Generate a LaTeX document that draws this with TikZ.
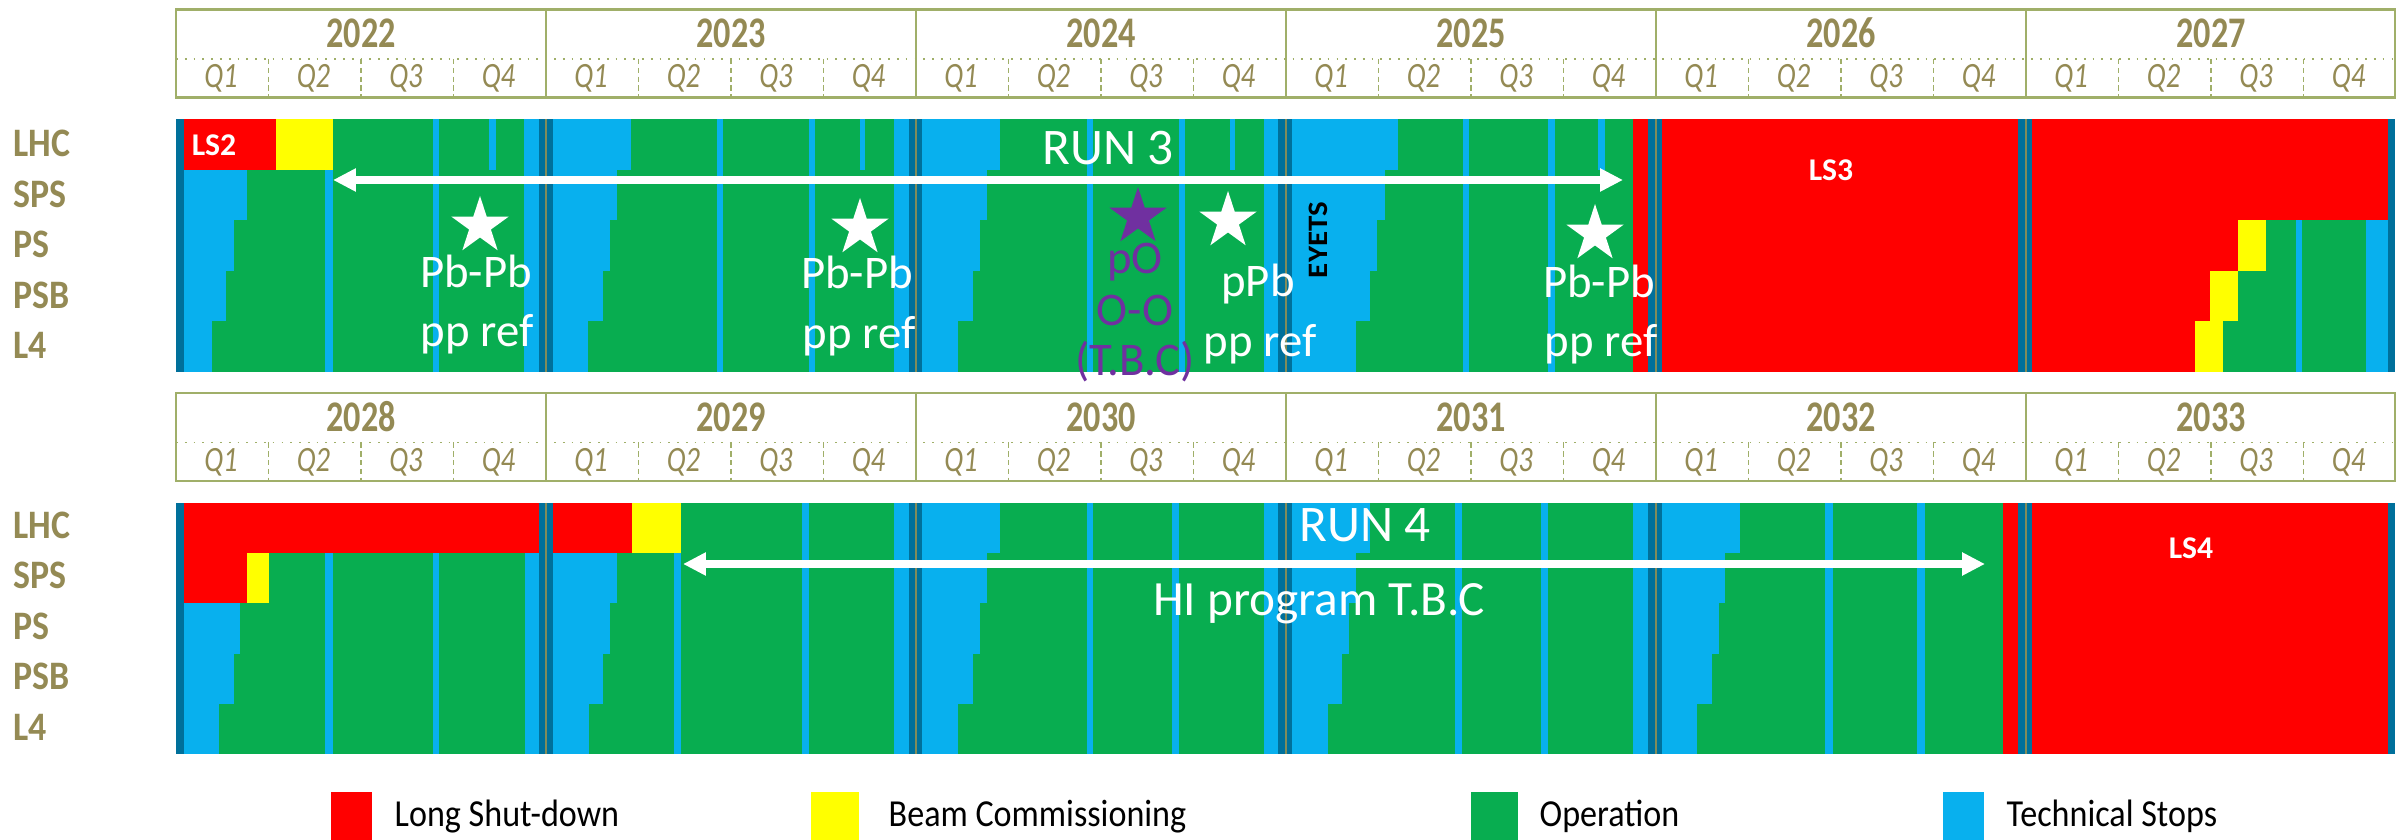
\documentclass[tikz,border=0pt]{standalone}
\usepackage{fontspec}
\setmainfont{Carlito}
\usetikzlibrary{arrows.meta,shapes.geometric}
\definecolor{lsred}{RGB}{255,0,0}
\definecolor{bcyellow}{RGB}{255,255,0}
\definecolor{opgreen}{RGB}{8,173,80}
\definecolor{tsblue}{RGB}{8,176,238}
\definecolor{dkblue}{RGB}{0,112,155}
\definecolor{olivetxt}{RGB}{148,138,84}
\definecolor{hdrline}{RGB}{160,175,105}
\definecolor{yrline}{RGB}{130,140,90}
\definecolor{tbcpurple}{RGB}{112,48,160}
\newcommand{\segm}[5]{\fill[#1] (#2,#4) rectangle (#3,#5);}
\newcommand{\tallyr}[1]{\scalebox{0.9}[1.15]{#1}}
\newcommand{\tallq}[1]{\scalebox{0.92}[1.15]{#1}}
\newcommand{\tallrow}[1]{\scalebox{1.02}[1.15]{#1}}
\newcommand{\talleg}[1]{\scalebox{1}[1.12]{#1}}
\def\tya{119.5}\def\tyb{170}\def\tyc{220.5}\def\tyd{271}\def\tye{321.5}\def\tyf{372}
\def\bya{503}\def\byb{553.2}\def\byc{603.4}\def\byd{653.6}\def\bye{703.8}\def\byf{754}
\tikzset{
  yearlbl/.style={font=\bfseries\fontsize{10.8}{12}\selectfont, text=olivetxt, anchor=base, inner sep=0pt},
  qlbl/.style={font=\itshape\fontsize{8.8}{10}\selectfont, text=olivetxt, anchor=base, inner sep=0pt},
  rowlbl/.style={font=\bfseries\fontsize{10}{12}\selectfont, text=olivetxt, anchor=base west, inner sep=0pt},
  lslbl/.style={font=\bfseries\fontsize{9}{11}\selectfont, text=white, anchor=center, inner sep=0pt},
  whitelbl/.style={font=\fontsize{13.3}{16}\selectfont, text=white, anchor=base, inner sep=0pt},
  purplelbl/.style={font=\fontsize{13.3}{16}\selectfont, text=tbcpurple, anchor=base, inner sep=0pt},
  runlbl/.style={font=\fontsize{14.6}{17}\selectfont, text=white, anchor=base, inner sep=0pt},
  starw/.style={star, star points=5, star point ratio=2.618, fill=white, draw=none, minimum size=0.6cm, inner sep=0pt},
  runarrow/.style={white, line width=2.1pt, {Triangle[length=6.5pt,width=6.2pt]}-{Triangle[length=6.5pt,width=6.2pt]}},
  hdrbox/.style={draw=hdrline, line width=0.6pt},
  hdrdot/.style={draw=hdrline, line width=0.5pt, dotted},
  hdrdash/.style={draw=hdrline, line width=0.5pt, dash pattern=on 1.5pt off 1pt},
  yearsep/.style={draw=yrline, line width=0.3pt},
  legsq/.style={draw=none, minimum width=0.41cm, minimum height=0.5cm, inner sep=0pt, anchor=north west},
  legtxt/.style={font=\fontsize{9.7}{12}\selectfont, text=black, anchor=base west, inner sep=0pt},
}
\begin{document}
\begin{tikzpicture}[x=0.01cm, y=-0.01cm]
\useasboundingbox (0,0) rectangle (2402,840);
\fill[white] (0,0) rectangle (2402,840);

% ---------------- headers ----------------
\foreach \hy/\yrs/\tag in {9.5/{2022,2023,2024,2025,2026,2027}/A, 393/{2028,2029,2030,2031,2032,2033}/B}{
  \draw[hdrbox] (176,\hy) rectangle (2395,\hy+88);
  \draw[hdrdot] (176,\hy+49.5) -- (2395,\hy+49.5);
  \foreach \yr [count=\i from 0] in \yrs {
    \pgfmathsetmacro{\xs}{176+370*\i}
    \ifnum\i>0 \draw[hdrbox] (\xs,\hy) -- (\xs,\hy+88); \fi
    \node[yearlbl] (yr\yr) at (\xs+185,\hy+38.5) {\tallyr{\yr}};
    \foreach \q in {1,2,3,4}{
      \pgfmathsetmacro{\qx}{\xs+92.5*(\q-1)}
      \ifnum\q>1 \draw[hdrdash] (\qx,\hy+49.5) -- (\qx,\hy+88); \fi
      \node[qlbl] (q\yr\q) at (\qx+45,\hy+78.5) {\tallq{Q\q}};
    }
  }
}

% ---------------- top chart 2022-2027 ----------------
\fill[opgreen] (176,\tya) rectangle (2395,\tyf);
\segm{dkblue}{176}{184}{\tya}{\tyf}
\segm{lsred}{184}{275.5}{\tya}{\tyb}
\segm{bcyellow}{275.5}{333}{\tya}{\tyb}
\segm{tsblue}{184}{247}{\tyb}{\tyc}
\segm{tsblue}{184}{234}{\tyc}{\tyd}
\segm{tsblue}{184}{226}{\tyd}{\tye}
\segm{tsblue}{184}{212}{\tye}{\tyf}
\segm{tsblue}{325}{333}{\tyb}{\tyf}
\segm{tsblue}{433}{439}{\tya}{\tyf}
\segm{tsblue}{489}{496}{\tya}{\tyb}
\segm{tsblue}{524}{539}{\tya}{\tyf}
\segm{dkblue}{539}{553}{\tya}{\tyf}
% 2023
\segm{tsblue}{553}{631}{\tya}{\tyb}
\segm{tsblue}{553}{617}{\tyb}{\tyc}
\segm{tsblue}{553}{610}{\tyc}{\tyd}
\segm{tsblue}{553}{603}{\tyd}{\tye}
\segm{tsblue}{553}{588}{\tye}{\tyf}
\segm{tsblue}{717}{723}{\tya}{\tyf}
\segm{tsblue}{809}{815}{\tya}{\tyf}
\segm{tsblue}{860}{865}{\tya}{\tyb}
\segm{tsblue}{894}{909}{\tya}{\tyf}
\segm{dkblue}{909}{922}{\tya}{\tyf}
% 2024
\segm{tsblue}{922}{1000}{\tya}{\tyb}
\segm{tsblue}{922}{987}{\tyb}{\tyc}
\segm{tsblue}{922}{980}{\tyc}{\tyd}
\segm{tsblue}{922}{973}{\tyd}{\tye}
\segm{tsblue}{922}{958}{\tye}{\tyf}
\segm{tsblue}{1087}{1093}{\tya}{\tyf}
\segm{tsblue}{1179}{1185}{\tya}{\tyf}
\segm{tsblue}{1230}{1235}{\tya}{\tyb}
\segm{tsblue}{1264}{1278}{\tya}{\tyf}
\segm{dkblue}{1278}{1292}{\tya}{\tyf}
% 2025
\segm{tsblue}{1292}{1398}{\tya}{\tyb}
\segm{tsblue}{1292}{1385}{\tyb}{\tyc}
\segm{tsblue}{1292}{1377}{\tyc}{\tyd}
\segm{tsblue}{1292}{1370}{\tyd}{\tye}
\segm{tsblue}{1292}{1356}{\tye}{\tyf}
\segm{tsblue}{1463}{1469}{\tya}{\tyf}
\segm{tsblue}{1548}{1555}{\tya}{\tyf}
\segm{tsblue}{1598}{1605}{\tya}{\tyb}
\segm{lsred}{1633}{1648}{\tya}{\tyf}
\segm{dkblue}{1648}{1662}{\tya}{\tyf}
% 2026-2027
\segm{lsred}{1662}{2018}{\tya}{\tyf}
\segm{dkblue}{2018}{2032}{\tya}{\tyf}
\segm{lsred}{2032}{2388}{\tya}{\tyc}
\segm{lsred}{2032}{2238}{\tyc}{\tyd}
\segm{bcyellow}{2238}{2266}{\tyc}{\tyd}
\segm{lsred}{2032}{2210}{\tyd}{\tye}
\segm{bcyellow}{2210}{2238}{\tyd}{\tye}
\segm{lsred}{2032}{2195}{\tye}{\tyf}
\segm{bcyellow}{2195}{2223}{\tye}{\tyf}
\segm{tsblue}{2296}{2302}{\tyc}{\tyf}
\segm{tsblue}{2366}{2388}{\tyc}{\tyf}
\segm{dkblue}{2388}{2395}{\tya}{\tyf}
\foreach \yx in {546,916,1286,1656,2026}{\draw[yearsep] (\yx,\tya) -- (\yx,\tyf);}

% ---------------- bottom chart 2028-2033 ----------------
\fill[opgreen] (176,\bya) rectangle (2395,\byf);
\segm{dkblue}{176}{184}{\bya}{\byf}
\segm{lsred}{184}{539}{\bya}{\byb}
\segm{lsred}{184}{247}{\byb}{\byc}
\segm{bcyellow}{247}{269}{\byb}{\byc}
\segm{tsblue}{184}{240}{\byc}{\byd}
\segm{tsblue}{184}{234}{\byd}{\bye}
\segm{tsblue}{184}{219}{\bye}{\byf}
\segm{tsblue}{325}{333}{\byb}{\byf}
\segm{tsblue}{433}{439}{\byb}{\byf}
\segm{tsblue}{525}{539}{\byb}{\byf}
\segm{dkblue}{539}{553}{\bya}{\byf}
% 2029
\segm{lsred}{553}{632}{\bya}{\byb}
\segm{bcyellow}{632}{681}{\bya}{\byb}
\segm{tsblue}{553}{617}{\byb}{\byc}
\segm{tsblue}{553}{610}{\byc}{\byd}
\segm{tsblue}{553}{603}{\byd}{\bye}
\segm{tsblue}{553}{589}{\bye}{\byf}
\segm{tsblue}{674}{681}{\byb}{\byf}
\segm{tsblue}{802}{809}{\bya}{\byf}
\segm{tsblue}{894}{909}{\bya}{\byf}
\segm{dkblue}{909}{922}{\bya}{\byf}
% 2030
\segm{tsblue}{922}{1000}{\bya}{\byb}
\segm{tsblue}{922}{987}{\byb}{\byc}
\segm{tsblue}{922}{980}{\byc}{\byd}
\segm{tsblue}{922}{973}{\byd}{\bye}
\segm{tsblue}{922}{958}{\bye}{\byf}
\segm{tsblue}{1087}{1093}{\bya}{\byf}
\segm{tsblue}{1172}{1179}{\bya}{\byf}
\segm{tsblue}{1264}{1278}{\bya}{\byf}
\segm{dkblue}{1278}{1292}{\bya}{\byf}
% 2031
\segm{tsblue}{1292}{1370}{\bya}{\byb}
\segm{tsblue}{1292}{1356}{\byb}{\byc}
\segm{tsblue}{1292}{1349}{\byc}{\byd}
\segm{tsblue}{1292}{1342}{\byd}{\bye}
\segm{tsblue}{1292}{1328}{\bye}{\byf}
\segm{tsblue}{1455}{1462}{\bya}{\byf}
\segm{tsblue}{1541}{1548}{\bya}{\byf}
\segm{tsblue}{1633}{1648}{\bya}{\byf}
\segm{dkblue}{1648}{1662}{\bya}{\byf}
% 2032
\segm{tsblue}{1662}{1740}{\bya}{\byb}
\segm{tsblue}{1662}{1725}{\byb}{\byc}
\segm{tsblue}{1662}{1719}{\byc}{\byd}
\segm{tsblue}{1662}{1712}{\byd}{\bye}
\segm{tsblue}{1662}{1697}{\bye}{\byf}
\segm{tsblue}{1825}{1833}{\bya}{\byf}
\segm{tsblue}{1917}{1925}{\bya}{\byf}
\segm{lsred}{2003}{2018}{\bya}{\byf}
\segm{dkblue}{2018}{2032}{\bya}{\byf}
% 2033
\segm{lsred}{2032}{2388}{\bya}{\byf}
\segm{dkblue}{2388}{2395}{\bya}{\byf}
\foreach \yx in {546,916,1286,1656,2026}{\draw[yearsep] (\yx,\bya) -- (\yx,\byf);}

% ---------------- row labels ----------------
\foreach \nm/\dy [count=\k] in {LHC/0,SPS/1,PS/2,PSB/3,L4/4}{
  \node[rowlbl] (top\nm) at (13,157+50.4*\dy) {\tallrow{\nm}};
  \node[rowlbl] (bot\nm) at (13,538.5+50.4*\dy) {\tallrow{\nm}};
}

% ---------------- LS labels ----------------
\node[lslbl] (ls2) at (214,145) {LS2};
\node[lslbl] (ls3) at (1831,170) {LS3};
\node[lslbl] (ls4) at (2191,548) {LS4};
\node[font=\bfseries\fontsize{8}{9}\selectfont, text=black, rotate=90, inner sep=0pt] (eyets) at (1318,240) {\scalebox{1.1}[1]{EYETS}};

% ---------------- run arrows ----------------
\node[runlbl] (run3) at (1108,165) {RUN 3};
\coordinate (r3L) at (333,180);
\coordinate (r3R) at (1623,180);
\draw[runarrow] (r3L) -- (r3R);

\node[runlbl] (run4) at (1365,542) {RUN 4};
\node[font=\fontsize{14}{17}\selectfont, text=white, anchor=base, inner sep=0pt] (hiprog) at (1319,616) {HI program T.B.C};
\coordinate (r4L) at (683,564);
\coordinate (r4R) at (1985,564);
\draw[runarrow] (r4L) -- (r4R);

% ---------------- stars and labels ----------------
\node[starw] (st1) at (480,226) {};
\node[whitelbl] (st1a) at (476,288) {Pb-Pb};
\node[whitelbl] (st1b) at (477,347) {pp ref};

\node[starw] (st2) at (860,228) {};
\node[whitelbl] (st2a) at (857,289) {Pb-Pb};
\node[whitelbl] (st2b) at (859,349) {pp ref};

\node[starw, fill=tbcpurple] (st3) at (1138,217) {};
\node[purplelbl] (st3a) at (1135,274) {pO};
\node[purplelbl] (st3b) at (1135,326) {O-O};
\node[purplelbl] (st3c) at (1135,376) {(T.B.C)};

\node[starw] (st4) at (1228,221) {};
\node[whitelbl] (st4a) at (1258,297) {pPb};
\node[whitelbl] (st4b) at (1260,357) {pp ref};

\node[starw] (st5) at (1595,234) {};
\node[whitelbl] (st5a) at (1599,298) {Pb-Pb};
\node[whitelbl] (st5b) at (1601,357) {pp ref};

% ---------------- legend ----------------
\node[legsq, fill=lsred] (sqA) at (330,791) {};
\node[legtxt] (txA) at (394,826) {\talleg{Long Shut-down}};
\node[legsq, fill=bcyellow, minimum width=0.48cm] (sqB) at (810,791) {};
\node[legtxt] (txB) at (888,826) {\talleg{Beam Commissioning}};
\node[legsq, fill=opgreen, minimum width=0.47cm] (sqC) at (1470,791) {};
\node[legtxt] (txC) at (1539,826) {\talleg{Operation}};
\node[legsq, fill=tsblue] (sqD) at (1942,791) {};
\node[legtxt] (txD) at (2006,826) {\talleg{Technical Stops}};
\end{tikzpicture}
\end{document}
